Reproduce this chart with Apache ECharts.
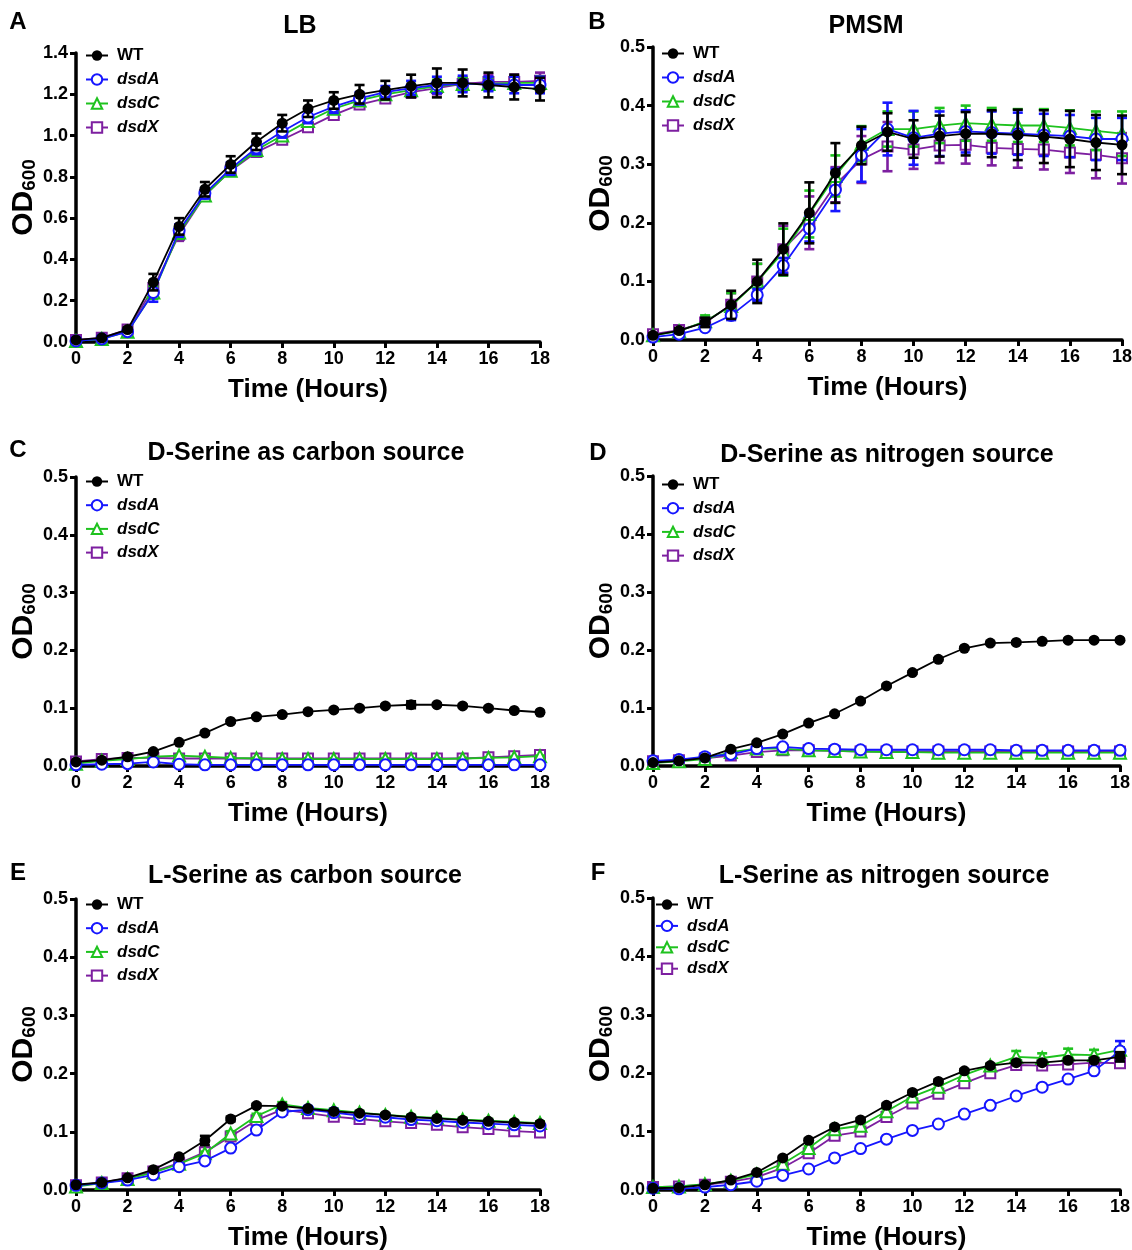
<!DOCTYPE html>
<html><head><meta charset="utf-8">
<script src="https://cdn.jsdelivr.net/npm/echarts@6/dist/echarts.min.js"></script>
<style>html,body{margin:0;padding:0;background:#fff}#c{width:1132px;height:1250px}</style>
</head><body><div id="c"></div>
<script>
// ---------------- DATA ----------------
const hours = [0,1,2,3,4,5,6,7,8,9,10,11,12,13,14,15,16,17,18];
const strainNames = ['WT','dsdA','dsdC','dsdX'];
const panelTitles = ['LB','PMSM','D-Serine as carbon source','D-Serine as nitrogen source','L-Serine as carbon source','L-Serine as nitrogen source'];
const panelLetters = ['A','B','C','D','E','F'];
const yMaxes = [1.4,0.5,0.5,0.5,0.5,0.5];
const yIntervals = [0.2,0.1,0.1,0.1,0.1,0.1];
const xTickInterval = 2;

// A: LB
const A_WT      = [0.01,0.02,0.06,0.29,0.56,0.74,0.86,0.97,1.06,1.13,1.17,1.20,1.22,1.24,1.255,1.255,1.245,1.235,1.225];
const A_WT_err  = [0.005,0.005,0.01,0.04,0.04,0.035,0.04,0.04,0.04,0.04,0.04,0.045,0.045,0.055,0.07,0.065,0.06,0.06,0.055];
const A_dsdA    = [0.005,0.015,0.05,0.24,0.54,0.72,0.84,0.94,1.02,1.09,1.14,1.18,1.21,1.23,1.245,1.25,1.25,1.245,1.245];
const A_dsdA_err= [0.005,0.005,0.01,0.045,0.03,0.025,0.03,0.03,0.03,0.03,0.03,0.03,0.03,0.035,0.04,0.04,0.035,0.04,0.04];
const A_dsdC    = [0.005,0.015,0.05,0.24,0.53,0.71,0.83,0.93,1.00,1.07,1.13,1.17,1.20,1.22,1.24,1.25,1.25,1.255,1.255];
const A_dsdC_err= [0.005,0.005,0.01,0.03,0.03,0.02,0.02,0.02,0.02,0.02,0.02,0.02,0.02,0.025,0.03,0.03,0.03,0.03,0.03];
const A_dsdX    = [0.01,0.02,0.06,0.26,0.52,0.71,0.83,0.92,0.98,1.04,1.10,1.15,1.18,1.21,1.23,1.25,1.26,1.26,1.265];
const A_dsdX_err= [0.005,0.005,0.01,0.03,0.03,0.02,0.02,0.02,0.02,0.02,0.02,0.02,0.02,0.025,0.03,0.03,0.035,0.035,0.04];

// B: PMSM
const B_WT      = [0.008,0.016,0.03,0.06,0.10,0.155,0.217,0.285,0.332,0.355,0.343,0.348,0.352,0.352,0.350,0.347,0.343,0.337,0.333];
const B_WT_err  = [0.003,0.004,0.008,0.024,0.037,0.044,0.052,0.051,0.032,0.032,0.032,0.035,0.037,0.04,0.043,0.045,0.048,0.047,0.05];
const B_dsdA    = [0.005,0.01,0.021,0.042,0.077,0.127,0.19,0.256,0.315,0.36,0.345,0.352,0.356,0.354,0.352,0.350,0.348,0.343,0.343];
const B_dsdA_err= [0.002,0.003,0.005,0.008,0.01,0.013,0.022,0.036,0.045,0.045,0.046,0.038,0.036,0.036,0.036,0.036,0.036,0.036,0.036];
const B_dsdC    = [0.008,0.015,0.032,0.058,0.10,0.15,0.215,0.28,0.335,0.36,0.36,0.366,0.37,0.368,0.366,0.366,0.362,0.357,0.352];
const B_dsdC_err= [0.003,0.004,0.01,0.022,0.03,0.04,0.04,0.035,0.03,0.03,0.03,0.03,0.03,0.028,0.028,0.028,0.03,0.033,0.038];
const B_dsdX    = [0.01,0.017,0.03,0.06,0.10,0.155,0.2,0.265,0.308,0.33,0.325,0.332,0.333,0.328,0.326,0.325,0.32,0.316,0.31];
const B_dsdX_err= [0.003,0.004,0.008,0.02,0.03,0.04,0.045,0.03,0.04,0.042,0.033,0.03,0.032,0.03,0.032,0.034,0.035,0.04,0.043];

// C: D-Serine as carbon source
const C_WT      = [0.007,0.01,0.016,0.025,0.041,0.057,0.077,0.085,0.089,0.094,0.097,0.100,0.104,0.106,0.106,0.104,0.100,0.096,0.093];
const C_WT_err  = [0.001,0.001,0.001,0.002,0.002,0.002,0.002,0.002,0.002,0.002,0.002,0.002,0.002,0.006,0.002,0.002,0.002,0.002,0.002];
const C_dsdA    = [0.002,0.003,0.004,0.007,0.003,0.002,0.002,0.002,0.002,0.002,0.002,0.002,0.002,0.002,0.002,0.002,0.002,0.002,0.002];
const C_dsdA_err= [0.001,0.001,0.001,0.001,0.001,0.001,0.001,0.001,0.001,0.001,0.001,0.001,0.001,0.001,0.001,0.001,0.001,0.001,0.001];
const C_dsdC    = [0.004,0.009,0.012,0.016,0.018,0.016,0.014,0.013,0.012,0.012,0.012,0.012,0.012,0.012,0.012,0.013,0.014,0.015,0.017];
const C_dsdC_err= [0.001,0.001,0.001,0.001,0.001,0.001,0.001,0.001,0.001,0.001,0.001,0.001,0.001,0.001,0.001,0.001,0.001,0.001,0.001];
const C_dsdX    = [0.008,0.012,0.014,0.014,0.013,0.013,0.013,0.013,0.013,0.013,0.013,0.013,0.013,0.013,0.013,0.013,0.015,0.017,0.019];
const C_dsdX_err= [0.001,0.001,0.001,0.001,0.001,0.001,0.001,0.001,0.001,0.001,0.001,0.001,0.001,0.001,0.001,0.001,0.001,0.001,0.001];

// D: D-Serine as nitrogen source
const D_WT      = [0.006,0.009,0.014,0.029,0.040,0.055,0.074,0.090,0.112,0.138,0.161,0.184,0.203,0.212,0.213,0.215,0.217,0.217,0.217];
const D_WT_err  = [0.001,0.001,0.001,0.002,0.002,0.002,0.002,0.002,0.002,0.002,0.002,0.002,0.002,0.002,0.002,0.002,0.002,0.002,0.002];
const D_dsdA    = [0.009,0.011,0.016,0.020,0.030,0.033,0.030,0.029,0.028,0.028,0.028,0.028,0.028,0.028,0.027,0.027,0.027,0.027,0.027];
const D_dsdA_err= [0.001,0.001,0.001,0.001,0.001,0.001,0.001,0.001,0.001,0.001,0.001,0.001,0.001,0.001,0.001,0.001,0.001,0.001,0.001];
const D_dsdC    = [0.005,0.008,0.012,0.024,0.030,0.030,0.027,0.026,0.025,0.024,0.024,0.023,0.023,0.023,0.023,0.023,0.023,0.023,0.023];
const D_dsdC_err= [0.001,0.001,0.001,0.001,0.001,0.001,0.001,0.001,0.001,0.001,0.001,0.001,0.001,0.001,0.001,0.001,0.001,0.001,0.001];
const D_dsdX    = [0.008,0.010,0.013,0.018,0.024,0.027,0.027,0.026,0.025,0.025,0.025,0.025,0.025,0.025,0.025,0.025,0.025,0.025,0.025];
const D_dsdX_err= [0.001,0.001,0.001,0.001,0.001,0.001,0.001,0.001,0.001,0.001,0.001,0.001,0.001,0.001,0.001,0.001,0.001,0.001,0.001];

// E: L-Serine as carbon source
const E_WT      = [0.009,0.013,0.021,0.035,0.057,0.085,0.122,0.145,0.144,0.140,0.135,0.132,0.129,0.125,0.123,0.120,0.118,0.116,0.114];
const E_WT_err  = [0.001,0.001,0.002,0.002,0.003,0.008,0.004,0.003,0.002,0.002,0.002,0.002,0.002,0.002,0.002,0.002,0.002,0.002,0.002];
const E_dsdA    = [0.008,0.012,0.017,0.026,0.040,0.050,0.072,0.103,0.134,0.138,0.133,0.128,0.125,0.121,0.119,0.116,0.114,0.112,0.110];
const E_dsdA_err= [0.001,0.001,0.001,0.002,0.002,0.002,0.002,0.003,0.003,0.002,0.002,0.002,0.002,0.002,0.002,0.002,0.002,0.002,0.002];
const E_dsdC    = [0.006,0.012,0.019,0.030,0.045,0.063,0.097,0.127,0.147,0.141,0.137,0.133,0.129,0.126,0.124,0.121,0.119,0.117,0.115];
const E_dsdC_err= [0.001,0.001,0.001,0.002,0.002,0.003,0.004,0.004,0.004,0.003,0.003,0.003,0.003,0.003,0.003,0.003,0.003,0.003,0.003];
const E_dsdX    = [0.008,0.013,0.020,0.032,0.046,0.065,0.092,0.120,0.138,0.132,0.126,0.122,0.118,0.115,0.112,0.108,0.105,0.101,0.099];
const E_dsdX_err= [0.001,0.001,0.001,0.002,0.002,0.003,0.003,0.003,0.003,0.002,0.002,0.002,0.002,0.002,0.002,0.002,0.002,0.002,0.002];

// F: L-Serine as nitrogen source
const F_WT      = [0.003,0.004,0.009,0.017,0.030,0.055,0.085,0.108,0.120,0.145,0.167,0.186,0.204,0.213,0.218,0.218,0.222,0.222,0.228];
const F_WT_err  = [0.001,0.001,0.001,0.002,0.002,0.002,0.003,0.003,0.003,0.003,0.003,0.003,0.003,0.003,0.003,0.003,0.003,0.003,0.008];
const F_dsdA    = [0.003,0.002,0.005,0.009,0.015,0.025,0.036,0.055,0.071,0.087,0.102,0.113,0.130,0.145,0.161,0.176,0.190,0.204,0.238];
const F_dsdA_err= [0.001,0.001,0.001,0.001,0.001,0.001,0.002,0.002,0.002,0.002,0.002,0.002,0.002,0.002,0.002,0.002,0.002,0.002,0.017];
const F_dsdC    = [0.005,0.006,0.010,0.016,0.027,0.045,0.072,0.104,0.110,0.135,0.160,0.177,0.197,0.213,0.228,0.226,0.232,0.231,0.240];
const F_dsdC_err= [0.001,0.001,0.001,0.002,0.002,0.002,0.003,0.003,0.003,0.003,0.003,0.003,0.003,0.003,0.010,0.008,0.010,0.009,0.004];
const F_dsdX    = [0.005,0.006,0.009,0.014,0.022,0.038,0.063,0.093,0.100,0.125,0.148,0.165,0.183,0.200,0.214,0.213,0.215,0.218,0.217];
const F_dsdX_err= [0.001,0.001,0.001,0.001,0.002,0.002,0.003,0.003,0.003,0.003,0.003,0.003,0.003,0.003,0.003,0.003,0.003,0.003,0.004];

// assemble (library-facing structure built from the arrays above)
const panelData = [
  {WT:[A_WT,A_WT_err], dsdA:[A_dsdA,A_dsdA_err], dsdC:[A_dsdC,A_dsdC_err], dsdX:[A_dsdX,A_dsdX_err]},
  {WT:[B_WT,B_WT_err], dsdA:[B_dsdA,B_dsdA_err], dsdC:[B_dsdC,B_dsdC_err], dsdX:[B_dsdX,B_dsdX_err]},
  {WT:[C_WT,C_WT_err], dsdA:[C_dsdA,C_dsdA_err], dsdC:[C_dsdC,C_dsdC_err], dsdX:[C_dsdX,C_dsdX_err]},
  {WT:[D_WT,D_WT_err], dsdA:[D_dsdA,D_dsdA_err], dsdC:[D_dsdC,D_dsdC_err], dsdX:[D_dsdX,D_dsdX_err]},
  {WT:[E_WT,E_WT_err], dsdA:[E_dsdA,E_dsdA_err], dsdC:[E_dsdC,E_dsdC_err], dsdX:[E_dsdX,E_dsdX_err]},
  {WT:[F_WT,F_WT_err], dsdA:[F_dsdA,F_dsdA_err], dsdC:[F_dsdC,F_dsdC_err], dsdX:[F_dsdX,F_dsdX_err]}
];

// ---------------- LAYOUT / STYLE ----------------
const FONT = '"Liberation Sans", Arial, Helvetica, sans-serif';
const gridBoxes = [
  {left:76,  top:53,  width:464, height:289},
  {left:653, top:47,  width:469, height:293},
  {left:76,  top:477, width:464, height:289},
  {left:653, top:476, width:467, height:290},
  {left:76,  top:899, width:464, height:291},
  {left:653, top:898, width:467, height:292}
];
const legendPos = [
  {left:85,  top:47,  itemGap:7},
  {left:661, top:45,  itemGap:7},
  {left:85,  top:473, itemGap:6.7},
  {left:661, top:476, itemGap:6.7},
  {left:85,  top:896, itemGap:6.7},
  {left:655, top:896, itemGap:4.4}
];
const titlePos = [[300,26],[866,26],[306,453],[887,455],[305,876],[884,876]];
const letterPos = [[18,22],[597,22],[18,450],[598,453],[18,873],[598,873]];
const COLORS = {WT:'#000000', dsdA:'#1616ff', dsdC:'#1ec21e', dsdX:'#7d1fa0'};
const SYMBOLS = {WT:'circle', dsdA:'emptyCircle', dsdC:'emptyTriangle', dsdX:'emptyRect'};
const SYMSIZE = {WT:11, dsdA:11, dsdC:12, dsdX:10};
const drawOrder = ['dsdX','dsdC','dsdA','WT'];

function makeErrRender(color){
  return function(params, api){
    const x = api.value(0), lo = api.value(1), hi = api.value(2);
    const t = api.coord([x, hi]), b = api.coord([x, lo]);
    const w = 5;
    const style = {stroke: color, lineWidth: 2.6, fill: null};
    return {type:'group', children:[
      {type:'line', shape:{x1:t[0],y1:t[1],x2:b[0],y2:b[1]}, style:style},
      {type:'line', shape:{x1:t[0]-w,y1:t[1],x2:t[0]+w,y2:t[1]}, style:style},
      {type:'line', shape:{x1:b[0]-w,y1:b[1],x2:b[0]+w,y2:b[1]}, style:style}
    ]};
  };
}

const grids = [], xAxes = [], yAxes = [], series = [], legends = [], graphics = [];
panelData.forEach(function(pd, p){
  grids.push(Object.assign({containLabel:false, outerBoundsMode:'none', show:false}, gridBoxes[p]));
  xAxes.push({
    type:'value', gridIndex:p, min:0, max:18, interval:xTickInterval,
    name:'Time (Hours)', nameLocation:'middle', nameGap:35,
    nameTextStyle:{fontFamily:FONT, fontWeight:'bold', fontSize:26, color:'#000'},
    axisLine:{show:true, onZero:false, lineStyle:{color:'#000', width:3.5}},
    axisTick:{show:true, inside:false, length:6, lineStyle:{color:'#000', width:3}},
    axisLabel:{show:true, margin:8, fontFamily:FONT, fontWeight:'bold', fontSize:18, color:'#000'},
    splitLine:{show:false}
  });
  yAxes.push({
    type:'value', gridIndex:p, min:0, max:yMaxes[p], interval:yIntervals[p],
    name:'{a|OD}{b|600}', nameLocation:'middle', nameRotate:90, nameGap:27,
    nameTextStyle:{rich:{
      a:{fontFamily:FONT, fontWeight:'bold', fontSize:30, color:'#000', lineHeight:30},
      b:{fontFamily:FONT, fontWeight:'bold', fontSize:19, color:'#000', lineHeight:14, verticalAlign:'bottom'}
    }},
    axisLine:{show:true, onZero:false, lineStyle:{color:'#000', width:3.5}},
    axisTick:{show:true, inside:false, length:6, lineStyle:{color:'#000', width:3}},
    axisLabel:{show:true, margin:8, fontFamily:FONT, fontWeight:'bold', fontSize:18, color:'#000',
      formatter:function(v){return v.toFixed(1);}},
    splitLine:{show:false}
  });
  drawOrder.forEach(function(name, k){
    const mean = pd[name][0], err = pd[name][1];
    const color = COLORS[name];
    series.push({
      type:'custom', name:name+' error', xAxisIndex:p, yAxisIndex:p, z:2+2*k,
      renderItem:makeErrRender(color), encode:{x:0, y:[1,2]},
      itemStyle:{color:color}, silent:true, clip:false,
      data:hours.map(function(h,i){return [h, mean[i]-err[i], mean[i]+err[i]];})
    });
    series.push({
      type:'line', name:name, xAxisIndex:p, yAxisIndex:p, z:3+2*k,
      symbol:SYMBOLS[name], symbolSize:SYMSIZE[name], showSymbol:true,
      color:color,
      lineStyle:{color:color, width:1.8},
      itemStyle:{color:color, borderColor:color, borderWidth: name==='WT'?0:2.4},
      data:hours.map(function(h,i){return [h, mean[i]];})
    });
  });
  legends.push({
    orient:'vertical', left:legendPos[p].left, top:legendPos[p].top, itemGap:legendPos[p].itemGap,
    padding:0, itemWidth:22, itemHeight:13, selectedMode:false,
    data:strainNames,
    formatter:function(n){return n==='WT' ? '{n|'+n+'}' : '{i|'+n+'}';},
    textStyle:{padding:[0,0,0,4], rich:{
      n:{fontFamily:FONT, fontWeight:'bold', fontSize:17, color:'#000'},
      i:{fontFamily:FONT, fontWeight:'bold', fontStyle:'italic', fontSize:17, color:'#000'}
    }}
  });
  graphics.push({type:'text', x:titlePos[p][0], y:titlePos[p][1], silent:true,
    style:{text:panelTitles[p], font:'bold 25px '+FONT, fill:'#000', align:'center', verticalAlign:'middle'}});
  graphics.push({type:'text', x:letterPos[p][0], y:letterPos[p][1], silent:true,
    style:{text:panelLetters[p], font:'bold 24px '+FONT, fill:'#000', align:'center', verticalAlign:'middle'}});
});

const chart = echarts.init(document.getElementById('c'), null, {renderer:'canvas'});
chart.setOption({
  animation:false,
  backgroundColor:'#ffffff',
  grid:grids, xAxis:xAxes, yAxis:yAxes, series:series, legend:legends,
  graphic:graphics
});
</script>
</body></html>
